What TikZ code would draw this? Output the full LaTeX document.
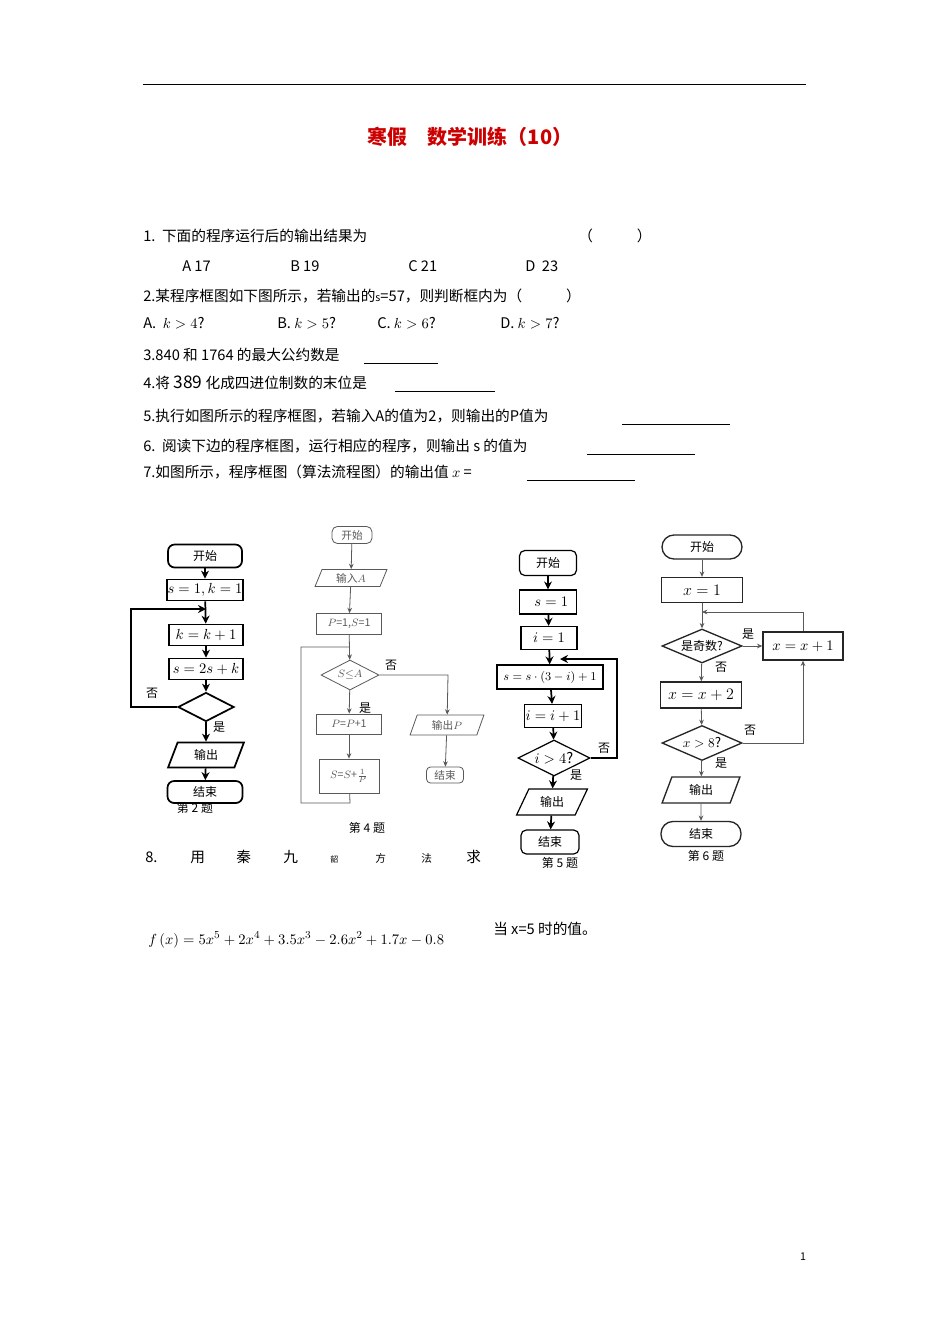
\documentclass[tikz,border=0pt]{standalone}
\usepackage{fontspec}
\setmainfont{Noto Sans CJK SC}
\usetikzlibrary{arrows.meta,shapes.geometric}
\newcommand\px{0.75pt}
\begin{document}
\begin{tikzpicture}[x=0.75pt,y=-0.75pt,
  txt/.style={anchor=west,inner sep=0,font=\fontsize{11}{13}\selectfont},
  ch/.style={font=\fontsize{9}{11}\selectfont,inner sep=0},
  lab/.style={font=\fontsize{9}{11}\selectfont,inner sep=0},
  thick arr/.style={draw,line width=1.3pt,-{Stealth[length=6pt,width=6pt]}},
  thin arr/.style={draw,gray!70!black,line width=0.6pt,-{Stealth[length=4pt,width=3.5pt]}},
  thickline/.style={draw,line width=1.3pt},
  thinline/.style={draw,gray!70!black,line width=0.6pt},
  ub/.style={draw,line width=0.5pt}]
\useasboundingbox (0,0) rectangle (950,1344);
\fill[white] (0,0) rectangle (950,1344);
\draw[line width=0.6pt] (143,84) -- (806,84);
\node[inner sep=0,text=red!80!black,font=\fontsize{15}{17}\selectfont\bfseries] (title) at (470,137) {寒假\quad 数学训练（10）};
% questions
\node[txt] (q1) at (143,236) {1.\ \ 下面的程序运行后的输出结果为};
\node[txt] (q1p) at (578,236) {（\qquad\quad ）};
\node[txt] (o1a) at (182,266) {A\ 17};
\node[txt] (o1b) at (290,266) {B\ 19};
\node[txt] (o1c) at (408,266) {C\ 21};
\node[txt] (o1d) at (525,266) {D\ \ 23};
\node[txt] (q2) at (143,296) {2.某程序框图如下图所示，若输出的{\footnotesize s}=57，则判断框内为（\qquad\quad ）};
\node[txt] (o2a) at (143,323) {A.\ \ $k>4$?};
\node[txt] (o2b) at (277,323) {B.\ $k>5$?};
\node[txt] (o2c) at (377,323) {C.\ $k>6$?};
\node[txt] (o2d) at (500,323) {D.\ $k>7$?};
\node[txt] (q3) at (143,355) {3.840 和 1764 的最大公约数是};
\draw[ub] (364,363) -- (438,363);
\node[txt] (q4) at (143,383) {4.将 {\fontsize{13}{14}\selectfont 389} 化成四进位制数的末位是};
\draw[ub] (395,391) -- (495,391);
\node[txt] (q5) at (143,416) {5.执行如图所示的程序框图，若输入A的值为2，则输出的P值为};
\draw[ub] (622,424) -- (730,424);
\node[txt] (q6) at (143,446) {6.\ \ 阅读下边的程序框图，运行相应的程序，则输出 s 的值为};
\draw[ub] (587,454) -- (695,454);
\node[txt] (q7) at (143,472) {7.如图所示，程序框图（算法流程图）的输出值 $x$ =};
\draw[ub] (527,480) -- (635,480);
% chart 1
\node[ch,draw,line width=1.3pt,rounded corners=5pt,minimum width=74*\px,minimum height=23*\px] (a1) at (205,556) {开始};
\node[ch,draw,line width=1.3pt,minimum width=76*\px,minimum height=21*\px] (a2) at (205,590) {\fontsize{11}{12}\selectfont $s=1,k=1$};
\node[ch,draw,line width=1.3pt,minimum width=74*\px,minimum height=21*\px] (a3) at (206,635) {\fontsize{11}{12}\selectfont $k=k+1$};
\node[ch,draw,line width=1.3pt,minimum width=74*\px,minimum height=21*\px] (a4) at (206,669) {\fontsize{11}{12}\selectfont $s=2s+k$};
\node[ch,draw,line width=1.3pt,shape=diamond,aspect=1.9,minimum width=56*\px,minimum height=29*\px] (a5) at (206,707) {};
\node[ch,draw,line width=1.3pt,trapezium,trapezium stretches=true,trapezium left angle=70,trapezium right angle=110,minimum width=76*\px,minimum height=25*\px] (a6) at (206,755) {输出};
\node[ch,draw,line width=1.3pt,rounded corners=5pt,minimum width=75*\px,minimum height=22*\px] (a7) at (205,792) {结束};
\node[lab] (a8) at (195,808) {第 2 题};
\node[lab] (an) at (152,693) {否};
\node[lab] (ay) at (219,727) {是};
\coordinate (ac1) at (131,707);
\coordinate (ac2) at (131,609);
\coordinate (ac3) at (206,609);
\path[thick arr] (a1) -- (a2);
\path[thick arr] (a2) -- (a3);
\path[thick arr] (a3) -- (a4);
\path[thick arr] (a4) -- (a5);
\path[thick arr] (a5) -- (a6);
\path[thick arr] (a6) -- (a7);
\path[thick arr] (a5.west) -- (ac1) -- (ac2) -- (ac3);
% chart 2
\node[ch,thinline,rounded corners=4pt,minimum width=40*\px,minimum height=17*\px,font=\fontsize{8}{9}\selectfont] (b1) at (352,535) {开始};
\node[ch,thinline,trapezium,trapezium stretches=true,trapezium left angle=70,trapezium right angle=110,minimum width=72*\px,minimum height=17*\px,font=\fontsize{8}{9}\selectfont] (b2) at (351,578) {输入$A$};
\node[ch,thinline,minimum width=65*\px,minimum height=21*\px,font=\fontsize{8}{9}\selectfont] (b3) at (349,624) {$P$=1,$S$=1};
\node[ch,thinline,shape=diamond,aspect=1.9,minimum width=58*\px,minimum height=30*\px,font=\fontsize{8}{9}\selectfont] (b4) at (350,675) {$S{\le}A$};
\node[ch,thinline,minimum width=65*\px,minimum height=20*\px,font=\fontsize{8}{9}\selectfont] (b5) at (349,724) {$P$=$P$+1};
\node[ch,thinline,minimum width=60*\px,minimum height=34*\px,font=\fontsize{8}{9}\selectfont] (b6) at (349,776) {$S$=$S$+$\frac{1}{P}$};
\node[ch,thinline,trapezium,trapezium stretches=true,trapezium left angle=70,trapezium right angle=110,minimum width=74*\px,minimum height=20*\px,font=\fontsize{8}{9}\selectfont] (b7) at (447,725) {输出$P$};
\node[ch,thinline,rounded corners=3pt,minimum width=37*\px,minimum height=16*\px,font=\fontsize{8}{9}\selectfont] (b8) at (445,775) {结束};
\node[lab] (b9) at (367,828) {第 4 题};
\node[lab] (bn) at (391,665) {否};
\node[lab] (by) at (365,708) {是};
\coordinate (bc1) at (350,803);
\coordinate (bc2) at (301,803);
\coordinate (bc3) at (301,647);
\coordinate (bc4) at (350,647);
\coordinate (bc5) at (448,675);
\path[thin arr] (b1) -- (b2);
\path[thin arr] (b2) -- (b3);
\path[thin arr] (b3) -- (b4);
\path[thin arr] (b4) -- (b5);
\path[thin arr] (b5) -- (b6);
\path[thinline] (b6) -- (bc1) -- (bc2) -- (bc3) -- (bc4);
\path[thin arr] (b4.east) -- (bc5) -- (b7);
\path[thin arr] (b7) -- (b8);
% chart 3
\node[ch,draw,line width=0.9pt,rounded corners=4pt,minimum width=57*\px,minimum height=25*\px] (c1) at (548,563) {开始};
\node[ch,draw,line width=0.9pt,minimum width=57*\px,minimum height=24*\px] (c2) at (548,602) {\fontsize{11}{12}\selectfont\ \ $s=1$};
\node[ch,draw,line width=0.9pt,minimum width=56*\px,minimum height=23*\px] (c3) at (549,638) {\fontsize{11}{12}\selectfont $i=1$};
\node[ch,draw,line width=0.9pt,minimum width=106*\px,minimum height=24*\px] (c4) at (550,677) {\fontsize{9}{11}\selectfont $s=s\cdot(3-i)+1$};
\node[ch,draw,line width=0.9pt,minimum width=57*\px,minimum height=23*\px] (c5) at (553,716) {\fontsize{11}{12}\selectfont $i=i+1$};
\node[ch,draw,line width=0.9pt,shape=diamond,aspect=2,minimum width=72*\px,minimum height=36*\px] (c6) at (554,758) {\fontsize{11}{12}\selectfont $i>4$?};
\node[ch,draw,line width=0.9pt,trapezium,trapezium stretches=true,trapezium left angle=60,trapezium right angle=120,minimum width=71*\px,minimum height=26*\px] (c7) at (552,802) {输出};
\node[ch,draw,line width=0.9pt,rounded corners=4pt,minimum width=58*\px,minimum height=24*\px] (c8) at (550,842) {结束};
\node[lab] (c9) at (560,863) {第 5 题};
\node[lab] (cn) at (604,748) {否};
\node[lab] (cy) at (576,775) {是};
\coordinate (cc1) at (617,758);
\coordinate (cc2) at (617,659);
\coordinate (cc3) at (560,659);
\path[thick arr] (c1) -- (c2);
\path[thick arr] (c2) -- (c3);
\path[thick arr] (c3) -- (c4);
\path[thick arr] (c4) -- (c5);
\path[thick arr] (c5) -- (c6);
\path[thick arr] (c6) -- (c7);
\path[thick arr] (c7) -- (c8);
\path[draw,line width=0.9pt,-{Stealth[length=6pt,width=6pt]}] (c6.east) -- (cc1) -- (cc2) -- (cc3);
% chart 4
\tikzset{b4s/.style={ch,draw,gray!30!black,text=black,line width=1pt}}
\node[b4s,rounded corners=12*\px,minimum width=80*\px,minimum height=24*\px] (d1) at (702,547) {开始};
\node[b4s,minimum width=81*\px,minimum height=25*\px] (d2) at (702,590) {\fontsize{13}{14}\selectfont $x=1$};
\node[b4s,shape=diamond,aspect=2.3,minimum width=80*\px,minimum height=34*\px] (d3) at (702,646) {是奇数?};
\node[b4s,minimum width=80*\px,minimum height=28*\px] (d4) at (803,646) {\fontsize{11}{12}\selectfont $x=x+1$};
\node[b4s,minimum width=81*\px,minimum height=26*\px] (d5) at (701,695) {\fontsize{13}{14}\selectfont $x=x+2$};
\node[b4s,shape=diamond,aspect=2.3,minimum width=80*\px,minimum height=35*\px] (d6) at (702,743) {\fontsize{10}{11}\selectfont $x>8$?};
\node[b4s,trapezium,trapezium stretches=true,trapezium left angle=70,trapezium right angle=110,minimum width=78*\px,minimum height=26*\px] (d7) at (701,790) {输出};
\node[b4s,rounded corners=12*\px,minimum width=80*\px,minimum height=25*\px] (d8) at (701,834) {结束};
\node[lab] (d9) at (706,856) {第 6 题};
\node[lab] (dy1) at (748,634) {是};
\node[lab] (dn1) at (721,667) {否};
\node[lab] (dn2) at (750,730) {否};
\node[lab] (dy2) at (721,763) {是};
\coordinate (dc1) at (803,612);
\coordinate (dc2) at (702,612);
\coordinate (dc3) at (803,743);
\path[thin arr] (d1) -- (d2);
\path[thin arr] (d2) -- (d3);
\path[thin arr] (d3) -- (d4);
\path[thin arr] (d3) -- (d5);
\path[thin arr] (d5) -- (d6);
\path[thin arr] (d6) -- (d7);
\path[thin arr] (d7) -- (d8);
\path[thin arr] (d4.north) -- (dc1) -- (dc2);
\path[thin arr] (d6.east) -- (dc3) -- (d4.south);
% question 8
\node[txt] (q8a) at (145,857) {8.};
\node[txt] (q8b) at (190,857) {用};
\node[txt] (q8c) at (236,857) {秦};
\node[txt] (q8d) at (283,857) {九};
\node[txt,font=\fontsize{6}{7}\selectfont] (q8e) at (330,859) {韶};
\node[txt,font=\fontsize{8}{9}\selectfont] (q8f) at (375,858) {方};
\node[txt,font=\fontsize{8}{9}\selectfont] (q8g) at (421,858) {法};
\node[txt] (q8h) at (466,857) {求};
\node[txt,font=\fontsize{11}{13}\selectfont] (f) at (148,940) {$f\,(x)=5x^5+2x^4+3.5x^3-2.6x^2+1.7x-0.8$};
\node[txt] (f2) at (493,929) {当 x=5 时的值。};
\node[inner sep=0,font=\fontsize{8}{9}\selectfont] (pg) at (803,1257) {1};
\end{tikzpicture}
\end{document}
